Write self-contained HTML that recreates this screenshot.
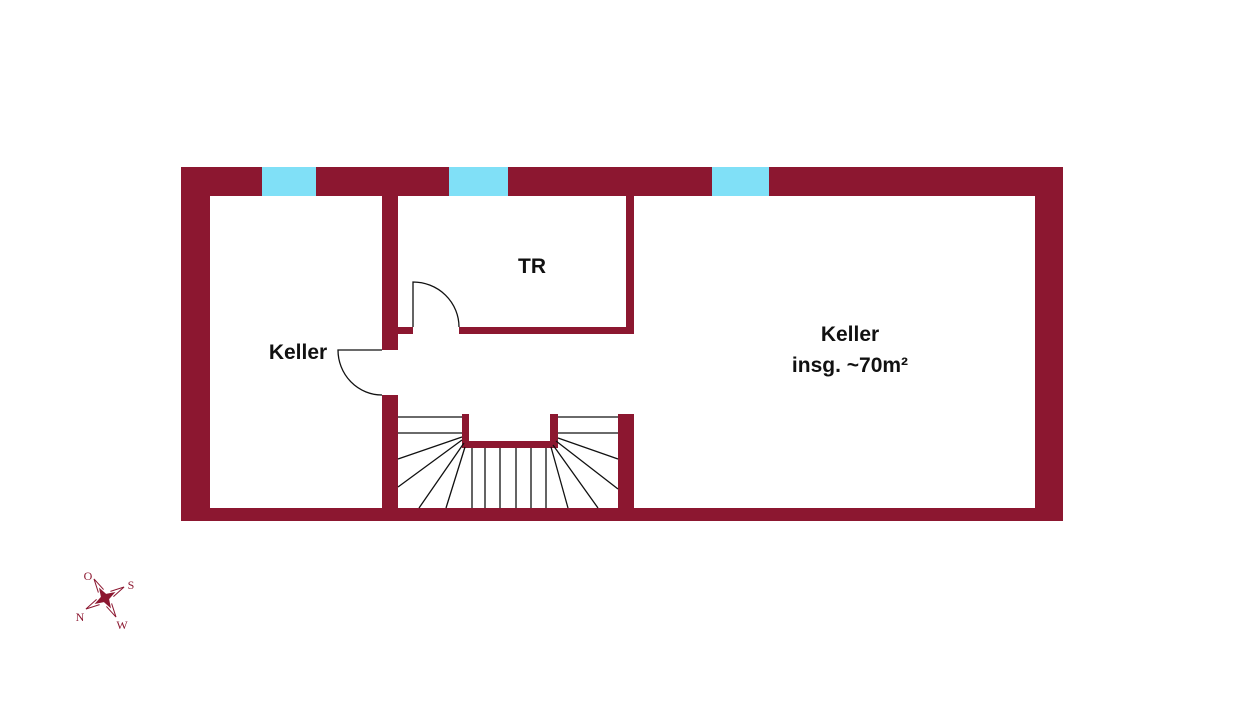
<!DOCTYPE html>
<html><head><meta charset="utf-8"><style>
html,body{margin:0;padding:0;background:#fff;}
</style></head><body>
<svg width="1236" height="700" viewBox="0 0 1236 700" xmlns="http://www.w3.org/2000/svg">
<rect width="1236" height="700" fill="#fff"/>
<g fill="#8c1730">
<rect x="181" y="167" width="882" height="29"/>
<rect x="181" y="167" width="29" height="354"/>
<rect x="1035" y="167" width="28" height="354"/>
<rect x="181" y="508" width="882" height="13"/>
<rect x="382" y="196" width="16" height="154"/>
<rect x="382" y="395" width="16" height="113"/>
<rect x="398" y="327" width="15" height="7"/>
<rect x="459" y="327" width="175" height="7"/>
<rect x="626" y="196" width="8" height="138"/>
<rect x="462" y="414" width="7" height="34"/>
<rect x="462" y="441" width="96" height="7"/>
<rect x="550" y="414" width="8" height="34"/>
<rect x="618" y="414" width="16" height="94"/>
</g>
<g fill="#80e0f7">
<rect x="262" y="167" width="54" height="29"/>
<rect x="449" y="167" width="59" height="29"/>
<rect x="712" y="167" width="57" height="29"/>
</g>
<g stroke="#111" stroke-width="1.3" fill="none">
<path d="M413 327 V282 A46 45 0 0 1 459 327"/>
<path d="M382 350 H338 A44 45 0 0 0 382 395"/>
<path d="M398 417H462M398 433H462M462 437L398 459M462 440L398 487M464 443L419 508M465 447L446 508"/>
<path d="M472 448V508M485 448V508M500 448V508M516 448V508M531 448V508M546 448V508"/>
<path d="M558 417H618M558 433H618M551 447L568 508M553 445L598 508M556 441L618 489M558 438L618 459"/>
</g>
<g font-family="Liberation Sans, sans-serif" font-weight="bold" font-size="21" fill="#111" text-anchor="middle">
<text x="532" y="273">TR</text>
<text x="298" y="359">Keller</text>
<text x="850" y="341">Keller</text>
<text x="850" y="372">insg. ~70m²</text>
</g>
<g transform="translate(105,598) rotate(-30)" fill="#8c1730" stroke="#8c1730">
<path d="M0 -12 L3 -3 L12 0 L3 3 L0 12 L-3 3 L-12 0 L-3 -3 Z" stroke="none"/>
<path d="M-3 -8 L0 -22 L3 -8 M8 -3 L22 0 L8 3 M-3 8 L0 22 L3 8 M-8 -3 L-22 0 L-8 3" fill="none" stroke-width="1"/>
</g>
<g font-family="Liberation Serif, serif" font-size="12" fill="#8c1730" text-anchor="middle">
<text x="88" y="580">O</text>
<text x="131" y="589">S</text>
<text x="80" y="621">N</text>
<text x="122" y="629">W</text>
</g>
</svg>
</body></html>
